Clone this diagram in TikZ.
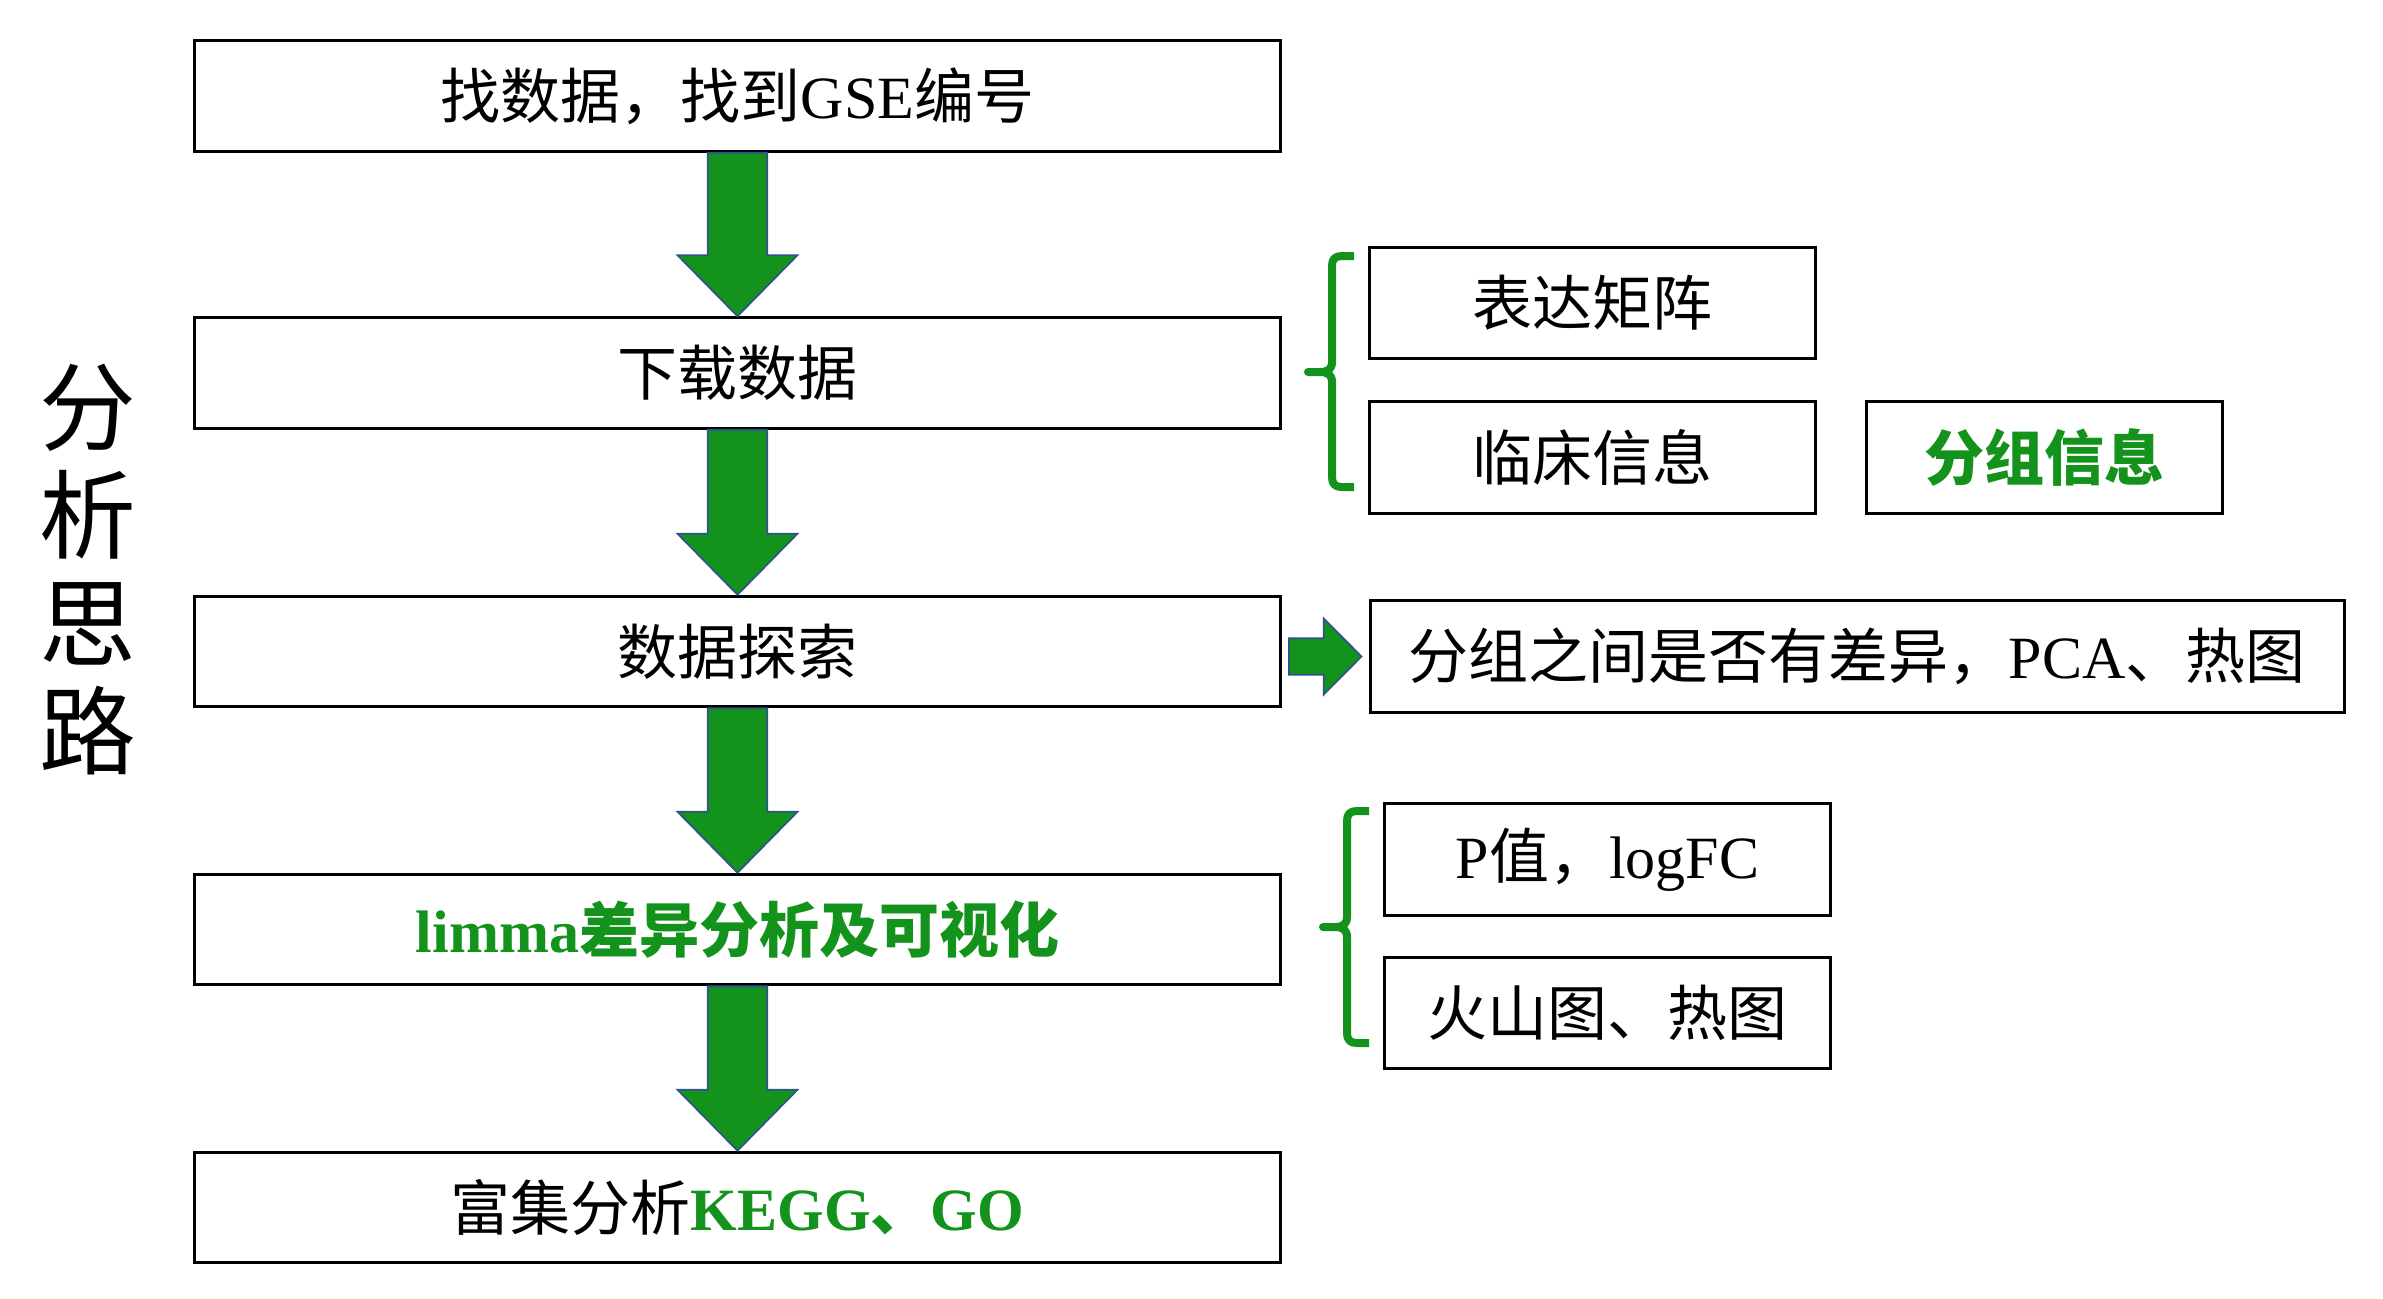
\documentclass[tikz,border=0pt]{standalone}
\usepackage{fontspec}
\setmainfont{Liberation Serif}
\newfontfamily\cjk{Noto Sans CJK SC}
\usetikzlibrary{calc}
\definecolor{grn}{RGB}{19,147,27}
\definecolor{arrowedge}{RGB}{47,82,143}
\newcommand\txtsize{\fontsize{18}{21}\selectfont}
\newcommand\dnarrow[2]{%
  \draw[blockarrow] ($(#1.south)+(-29.7,0)$) -- ($(#1.south)+(29.7,0)$)
    -- ($(#2.north)+(29.7,-61)$) -- ($(#2.north)+(60,-61)$) -- (#2.north)
    -- ($(#2.north)+(-60,-61)$) -- ($(#2.north)+(-29.7,-61)$) -- cycle;}
\newcommand\grnbrace[5]{% vx, top, mid, bottom, tip
  \draw[bracestyle] ({#1+22},#2) -- ({#1+10},#2) .. controls ({#1+3},#2) and (#1,{#2+3}) .. (#1,{#2+10})
    -- (#1,{#3-10}) .. controls (#1,{#3-3}) and ({#1-4},#3) .. ({#1-12},#3) -- (#5,#3)
    -- ({#1-12},#3) .. controls ({#1-4},#3) and (#1,{#3+3}) .. (#1,{#3+10})
    -- (#1,{#4-10}) .. controls (#1,{#4-3}) and ({#1+3},#4) .. ({#1+10},#4) -- ({#1+22},#4);}
\begin{document}
\begin{tikzpicture}[x=0.3pt,y=-0.3pt,
  box/.style={draw=black, line width=0.9pt, inner sep=0pt, font=\txtsize, text=black},
  mainbox/.style={box, minimum width=325.8pt, minimum height=33.15pt},
  sidebox/.style={box, minimum width=133.6pt, minimum height=33.5pt},
  blockarrow/.style={fill=grn, draw=arrowedge, line width=0.5pt, line join=miter},
  bracestyle/.style={draw=grn, line width=2.4pt, line join=round}]
\fill[white] (0,0) rectangle (2383,1299);
\useasboundingbox (0,0) rectangle (2383,1299);

% vertical title
\node[align=center, font=\fontsize{29}{32.4}\selectfont\cjk] (title) at (88,570) {分\\析\\思\\路};

% main chain
\node[mainbox] (m1) at (737.5,96) {{\cjk 找数据，找到}GSE{\cjk 编号}};
\node[mainbox] (m2) at (737.5,373) {\cjk 下载数据};
\node[mainbox] (m3) at (737.5,651.5) {\cjk 数据探索};
\node[mainbox] (m4) at (737.5,929.5) {\color{grn}\bfseries limma{\cjk 差异分析及可视化}};
\node[mainbox] (m5) at (737.5,1207.5) {{\cjk 富集分析}{\color{grn}\bfseries KEGG{\cjk 、}GO}};

\dnarrow{m1}{m2}
\dnarrow{m2}{m3}
\dnarrow{m3}{m4}
\dnarrow{m4}{m5}

% side boxes
\node[sidebox] (r1) at (1592.5,303) {\cjk 表达矩阵};
\node[sidebox] (r2) at (1592.5,457.5) {\cjk 临床信息};
\node[box, minimum width=106.8pt, minimum height=33.6pt] (r3) at (2044.7,457.7) {\color{grn}\bfseries\cjk 分组信息};
\node[box, minimum width=292.2pt, minimum height=33.5pt] (r4) at (1857,656.5) {{\cjk 分组之间是否有差异，}PCA{\cjk 、热图}};
\node[sidebox, minimum width=134pt] (r5) at (1607.5,859.5) {P{\cjk 值，}logFC};
\node[sidebox, minimum width=134pt] (r6) at (1607.5,1013) {\cjk 火山图、热图};

% right arrow
\coordinate (ra) at ($(m3.east |- r4.west)+(7,0)$);
\coordinate (rb) at ($(r4.west)+(-7,0)$);
\draw[blockarrow] ($(ra)+(0,-18.3)$) -- ($(rb)+(-37.7,-18.3)$) -- ($(rb)+(-37.7,-38)$) -- (rb)
  -- ($(rb)+(-37.7,38)$) -- ($(rb)+(-37.7,18.3)$) -- ($(ra)+(0,18.3)$) -- cycle;

% braces
\grnbrace{1332}{256}{372}{487}{1308}
\grnbrace{1347}{811}{927}{1043}{1323}
\end{tikzpicture}
\end{document}
